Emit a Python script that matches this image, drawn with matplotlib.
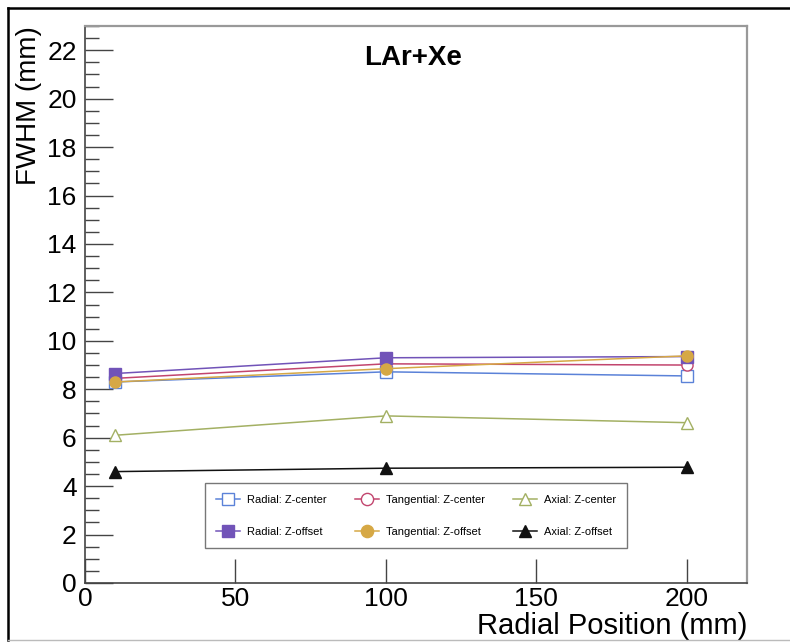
import numpy as np
import matplotlib
matplotlib.use("Agg")
import matplotlib.pyplot as plt
from matplotlib.ticker import MultipleLocator

plt.rcParams['font.family'] = ['Liberation Sans', 'DejaVu Sans']

# radial positions (mm)
positions = [10, 100, 200]

# FWHM (mm)
radial_center = [8.30, 8.72, 8.55]
tangential_center = [8.45, 9.05, 9.00]
axial_center = [6.10, 6.90, 6.62]
radial_offset = [8.65, 9.30, 9.35]
tangential_offset = [8.30, 8.85, 9.38]
axial_offset = [4.60, 4.74, 4.78]

series = [
    ("Radial: Z-center", radial_center, "#5b82d8", "s", "none"),
    ("Tangential: Z-center", tangential_center, "#c2456e", "o", "none"),
    ("Axial: Z-center", axial_center, "#a3b063", "^", "none"),
    ("Radial: Z-offset", radial_offset, "#7153b8", "s", "full"),
    ("Tangential: Z-offset", tangential_offset, "#d6a845", "o", "full"),
    ("Axial: Z-offset", axial_offset, "#111111", "^", "full"),
]

fig = plt.figure(figsize=(7.9, 6.43), dpi=100)
ax = fig.add_axes([85 / 790, 1 - 583 / 643, 662 / 790, 557 / 643])

handles = []
for label, vals, color, marker, fill in series:
    if fill == "none":
        h, = ax.plot(positions, vals, color=color, lw=1.1, marker=marker, ms=8,
                     mfc="white", mec=color, mew=1.0, label=label)
    else:
        h, = ax.plot(positions, vals, color=color, lw=1.1, marker=marker, ms=8,
                     mfc=color, mec=color, label=label)
    handles.append(h)

ax.set_xlim(0, 220)
ax.set_ylim(0, 23)
ax.xaxis.set_major_locator(MultipleLocator(50))
ax.yaxis.set_major_locator(MultipleLocator(2))
ax.yaxis.set_minor_locator(MultipleLocator(0.5))

ax.tick_params(axis='both', which='both', direction='in', colors='#444444',
               labelcolor='black', labelsize=19, top=False, right=False)
ax.tick_params(axis='y', which='major', length=20, width=1.0, pad=6)
ax.tick_params(axis='y', which='minor', length=10, width=1.0)
ax.tick_params(axis='x', which='major', length=17, width=1.0, pad=3)

for side in ['left', 'bottom']:
    ax.spines[side].set_color('#444444')
    ax.spines[side].set_linewidth(1.2)
for side in ['top', 'right']:
    ax.spines[side].set_color('#999999')
    ax.spines[side].set_linewidth(1.6)

ax.set_xlabel("Radial Position (mm)", fontsize=21, loc='right')
ax.xaxis.set_label_coords(1.0, -0.052)
ax.set_ylabel("FWHM (mm)", fontsize=20, loc='top', labelpad=4)

ax.text(0.496, 0.965, "LAr+Xe", transform=ax.transAxes, ha='center', va='top',
        fontsize=20, fontweight='bold')

# legend filled row by row (matplotlib fills column by column)
order = [0, 3, 1, 4, 2, 5]
leg = ax.legend([handles[i] for i in order], [series[i][0] for i in order],
                ncol=3, fontsize=8, loc='lower left',
                bbox_to_anchor=(0.181, 0.063, 0.638, 0.126), mode='expand',
                fancybox=False, edgecolor='#777777', framealpha=1,
                handlelength=2.2, columnspacing=0.8, handletextpad=0.6,
                borderaxespad=0, labelspacing=2.0, borderpad=1.0,
                markerscale=1.1)
leg.get_frame().set_linewidth(1.0)

# outer frame
fig.add_artist(plt.Line2D([8 / 790, 8 / 790], [1 - 640 / 643, 1 - 8 / 643],
                          transform=fig.transFigure, color='black', lw=1.8))
fig.add_artist(plt.Line2D([8 / 790, 1.0], [1 - 8 / 643, 1 - 8 / 643],
                          transform=fig.transFigure, color='black', lw=1.8))
fig.add_artist(plt.Line2D([8 / 790, 1.0], [1 - 640 / 643, 1 - 640 / 643],
                          transform=fig.transFigure, color='#bbbbbb', lw=1.0))

fig.savefig("out.png", dpi=100)
